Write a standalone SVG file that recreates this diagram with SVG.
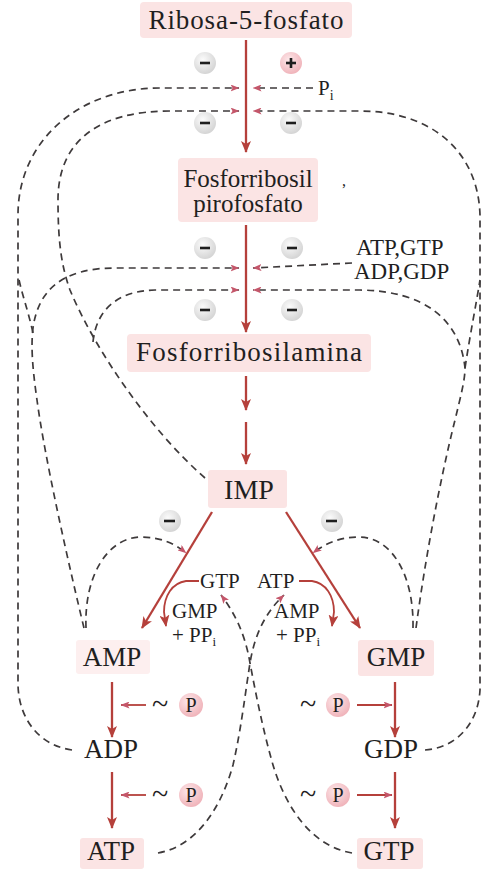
<svg xmlns="http://www.w3.org/2000/svg" width="483" height="869" viewBox="0 0 483 869">
<defs>
<style>
.t{font-family:"Liberation Serif","Times New Roman",serif;fill:#1f1f1f;}
.n{font-size:27px;text-anchor:middle;}
.s{font-size:21px;}
.tl{font-size:30px;}
.box{fill:#fbe4e4;}
.main{stroke:#b5403b;stroke-width:2.3;fill:none;}
.ra{marker-end:url(#rh);}
.d{stroke:#3e3a3b;stroke-width:1.7;fill:none;stroke-dasharray:7 5;}
.da{marker-end:url(#dh);}
.thin{stroke:#b5403b;stroke-width:1.8;fill:none;}
.mc{fill:url(#mg);}
.pc{fill:url(#pg);}
.bar{stroke:#1e1e1e;stroke-width:2.6;}
</style>
<marker id="rh" viewBox="0 0 12 10" refX="11" refY="5" markerWidth="12" markerHeight="10" markerUnits="userSpaceOnUse" orient="auto"><path d="M0,0 L12,5 L0,10 L3,5 z" fill="#b5403b"/></marker>
<marker id="dh" viewBox="0 0 9 7" refX="8.5" refY="3.5" markerWidth="9" markerHeight="7" markerUnits="userSpaceOnUse" orient="auto"><path d="M0,0 L9,3.5 L0,7 L2,3.5 z" fill="#c4566a"/></marker>
<radialGradient id="mg" cx="0.4" cy="0.35" r="0.7"><stop offset="0" stop-color="#fbfbfb"/><stop offset="1" stop-color="#d2d2d2"/></radialGradient>
<radialGradient id="pg" cx="0.4" cy="0.35" r="0.7"><stop offset="0" stop-color="#fde8ea"/><stop offset="1" stop-color="#efb0b7"/></radialGradient>
</defs>
<rect width="483" height="869" fill="#ffffff"/>

<g id="connectors">
  <path class="main ra" d="M246,40 L246,152"/>
  <path class="main ra" d="M246,225 L246,332"/>
  <path class="main ra" d="M246,376 L246,410"/>
  <path class="main ra" d="M246,422 L246,464"/>
  <path class="main ra" d="M212,512 L142,628"/>
  <path class="main ra" d="M286,512 L360,628"/>
  <path class="main ra" d="M112,682 L112,737"/>
  <path class="main ra" d="M112,772 L112,828"/>
  <path class="main ra" d="M395,682 L395,737"/>
  <path class="main ra" d="M395,772 L395,828"/>
  <path class="thin ra" d="M199,581 L186,581 C172,583 164,596 164,612 L166,626"/>
  <path class="thin ra" d="M299,581 L312,581 C326,583 334,596 334,612 L332,626"/>
  <path class="thin" style="marker-end:url(#dh)" d="M146,705 L121,705"/>
  <path class="thin" style="marker-end:url(#dh)" d="M146,795 L121,795"/>
  <path class="thin" style="marker-end:url(#dh)" d="M357,705 L392,705"/>
  <path class="thin" style="marker-end:url(#dh)" d="M357,795 L392,795"/>
  <path class="d da" d="M72,750 C42,746 19,722 18,685 L18,215 C18,140 80,88 160,88 L239,88"/>
  <path class="d da" d="M313,88 L253,88"/>
  <path class="d da" d="M205,478 C150,430 95,350 70,290 C61,265 58,240 58,200 C58,140 100,111 170,111 L239,111"/>
  <path class="d da" d="M425,750 C455,748 478,725 480,690 L480,215 C478,150 430,111 360,111 L253,111"/>
  <path class="d da" d="M84,628 C70,570 45,460 37,400 C32,365 31,345 33,328 C38,292 60,268 115,268 L239,268"/>
  <path class="d" d="M33,333 C28,310 22,295 18,275"/>
  <path class="d da" d="M93,342 C96,312 115,291 155,290 L239,290"/>
  <path class="d da" d="M352,263 L253,268"/>
  <path class="d da" d="M416,628 C425,560 440,480 455,420 C461,395 465,380 465,368 C460,320 425,291 360,290 L253,290"/>
  <path class="d" d="M465,368 C470,335 476,305 480,280"/>
  <path class="d da" d="M86,628 C84,575 108,538 140,537 C160,537 174,543 186,553"/>
  <path class="d da" d="M413,628 C414,575 392,538 360,537 C340,537 326,543 313,553"/>
  <path class="d da" d="M158,853 C198,846 222,805 233,765 C241,730 245,695 250,663 C255,633 266,612 284,595"/>
  <path class="d da" d="M352,853 C310,846 285,805 273,765 C263,730 256,695 250,663 C245,633 234,612 221,595"/>
</g>

<g id="modifiers">
  <circle class="mc" cx="205" cy="63" r="11"/><line class="bar" x1="200" y1="63" x2="210" y2="63"/>
  <circle class="pc" cx="291" cy="63" r="11"/><line class="bar" x1="286" y1="63" x2="296" y2="63"/><line class="bar" x1="291" y1="58" x2="291" y2="68"/>
  <circle class="mc" cx="205" cy="123" r="11"/><line class="bar" x1="200" y1="123" x2="210" y2="123"/>
  <circle class="mc" cx="291" cy="123" r="11"/><line class="bar" x1="286" y1="123" x2="296" y2="123"/>
  <circle class="mc" cx="205" cy="248" r="11"/><line class="bar" x1="200" y1="248" x2="210" y2="248"/>
  <circle class="mc" cx="292" cy="248" r="11"/><line class="bar" x1="287" y1="248" x2="297" y2="248"/>
  <circle class="mc" cx="205" cy="310" r="11"/><line class="bar" x1="200" y1="310" x2="210" y2="310"/>
  <circle class="mc" cx="292" cy="310" r="11"/><line class="bar" x1="287" y1="310" x2="297" y2="310"/>
  <circle class="mc" cx="170" cy="521" r="11"/><line class="bar" x1="164" y1="521" x2="175" y2="521"/>
  <circle class="mc" cx="332" cy="521" r="11"/><line class="bar" x1="326" y1="521" x2="337" y2="521"/>
</g>

<g id="n-ribosa">
  <rect class="box" x="140" y="2" width="212" height="36" rx="4"/>
  <text class="t n" x="246" y="29" textLength="195">Ribosa-5-fosfato</text>
</g>
<g id="n-prpp">
  <rect class="box" x="178" y="158" width="140" height="64" rx="4"/>
  <text class="t n" x="248" y="187" style="font-size:25px">Fosforribosil</text>
  <text class="t n" x="248" y="212" style="font-size:25px">pirofosfato</text>
  <text class="t" x="342" y="186" style="font-size:16px">,</text>
</g>
<g id="n-pi">
  <text class="t s" x="318" y="95">P<tspan style="font-size:14px" dy="5">i</tspan></text>
</g>
<g id="n-atpgtp">
  <text class="t" x="356" y="255" style="font-size:23px">ATP,GTP</text>
  <text class="t" x="354" y="279" style="font-size:23px">ADP,GDP</text>
</g>
<g id="n-pra">
  <rect class="box" x="127" y="334" width="244" height="38" rx="4"/>
  <text class="t n" x="249" y="361" textLength="226">Fosforribosilamina</text>
</g>
<g id="n-imp">
  <rect class="box" x="208" y="470" width="79" height="38" rx="3"/>
  <text class="t n" x="249" y="499" style="font-size:28px">IMP</text>
</g>
<g id="n-gtp-atp-in">
  <text class="t s" x="200" y="588">GTP</text>
  <text class="t s" x="257" y="588">ATP</text>
</g>
<g id="n-gmp-ppi">
  <text class="t s" x="172" y="618">GMP</text>
  <text class="t s" x="172" y="642">+ PP<tspan style="font-size:13px" dy="4">i</tspan></text>
</g>
<g id="n-amp-ppi">
  <text class="t s" x="274" y="618">AMP</text>
  <text class="t s" x="276" y="642">+ PP<tspan style="font-size:13px" dy="4">i</tspan></text>
</g>
<g id="n-amp">
  <rect class="box" x="76" y="640" width="74" height="34" rx="3" style="opacity:0.6"/>
  <text class="t n" x="112" y="666">AMP</text>
</g>
<g id="n-gmp">
  <rect class="box" x="358" y="640" width="76" height="36" rx="3"/>
  <text class="t n" x="396" y="666">GMP</text>
</g>
<g id="n-adp">
  <text class="t n" x="111" y="758">ADP</text>
</g>
<g id="n-gdp">
  <text class="t n" x="391" y="758">GDP</text>
</g>
<g id="n-atp">
  <rect class="box" x="80" y="838" width="64" height="31" rx="3"/>
  <text class="t n" x="111" y="860">ATP</text>
</g>
<g id="n-gtp">
  <rect class="box" x="357" y="838" width="66" height="31" rx="3"/>
  <text class="t n" x="389" y="860">GTP</text>
</g>
<g id="n-p1">
  <text class="t tl" x="152" y="714">~</text>
  <circle class="pc" cx="191" cy="705" r="12"/>
  <text class="t" x="191" y="712" style="font-size:20px;text-anchor:middle">P</text>
</g>
<g id="n-p2">
  <text class="t tl" x="152" y="804">~</text>
  <circle class="pc" cx="191" cy="795" r="12"/>
  <text class="t" x="191" y="802" style="font-size:20px;text-anchor:middle">P</text>
</g>
<g id="n-p3">
  <text class="t tl" x="300" y="714">~</text>
  <circle class="pc" cx="338" cy="705" r="12"/>
  <text class="t" x="338" y="712" style="font-size:20px;text-anchor:middle">P</text>
</g>
<g id="n-p4">
  <text class="t tl" x="300" y="804">~</text>
  <circle class="pc" cx="338" cy="795" r="12"/>
  <text class="t" x="338" y="802" style="font-size:20px;text-anchor:middle">P</text>
</g>
</svg>
